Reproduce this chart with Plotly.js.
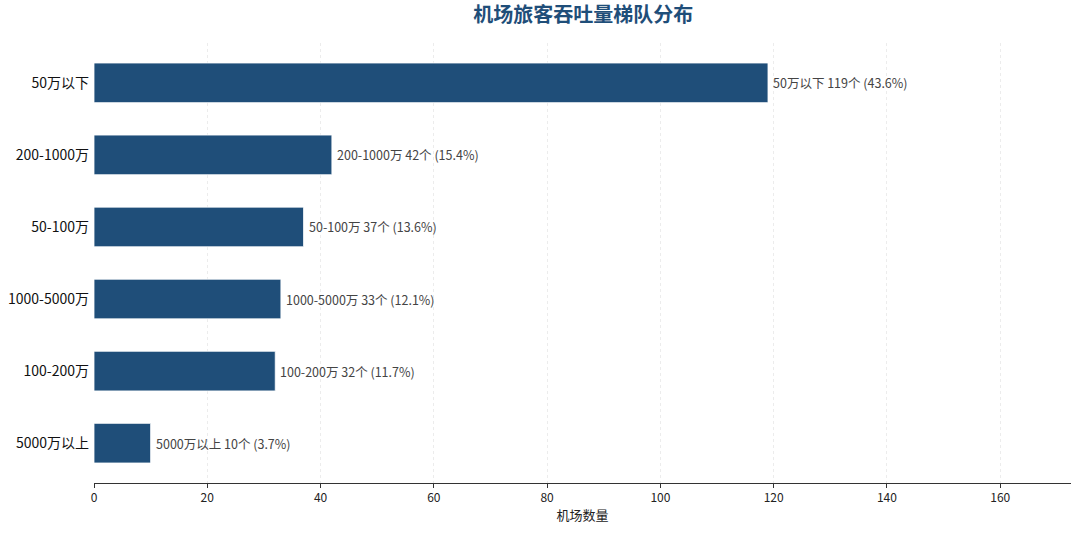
<!DOCTYPE html>
<html><head><meta charset="utf-8">
<script src="https://cdn.plot.ly/plotly-3.0.1.min.js"></script>
<style>html,body{margin:0;padding:0;background:#fff}</style>
</head><body>
<div id="chart" style="width:1080px;height:534px"></div>
<script>
const categories = ["5000万以上", "100-200万", "1000-5000万", "50-100万", "200-1000万", "50万以下"];
const counts = [10, 32, 33, 37, 42, 119];
const percents = ["3.7%", "11.7%", "12.1%", "13.6%", "15.4%", "43.6%"];
const labels = categories.map((c, i) => `${c} ${counts[i]}个 (${percents[i]})`);
const FONT = '"Noto Sans CJK SC", "Noto Sans", sans-serif';

const annotations = categories.map((c, i) => ({
  x: counts[i], y: c, xref: 'x', yref: 'y', text: labels[i], showarrow: false,
  xanchor: 'left', yanchor: 'middle', xshift: 3,
  font: {family: FONT, size: 12.5, color: '#444'}
}));

Plotly.newPlot('chart', [{
  type: 'bar', orientation: 'h',
  x: counts, y: categories,
  width: 0.55,
  marker: {color: '#1f4e79', line: {color: '#ffffff', width: 0.8}},
  hoverinfo: 'none'
}], {
  width: 1080, height: 534,
  margin: {l: 94, r: 9, t: 43, b: 51},
  paper_bgcolor: '#fff', plot_bgcolor: '#fff',
  title: {text: '机场旅客吞吐量梯队分布', x: 0.54, xanchor: 'center', y: 0.985, yanchor: 'top',
          font: {family: FONT, size: 20, color: '#1f4e79', weight: 'bold'}},
  annotations: annotations,
  xaxis: {range: [0, 172.5], dtick: 20, tick0: 0, showgrid: true, gridcolor: '#ececec', griddash: '3px,3px', gridwidth: 1,
          zeroline: false, showline: true, linecolor: '#333', linewidth: 1, ticks: 'outside', ticklen: 4, tickcolor: '#333',
          tickfont: {family: FONT, size: 12, color: '#222'},
          title: {text: '机场数量', font: {family: FONT, size: 13, color: '#222'}, standoff: 6}},
  yaxis: {type: 'category', categoryorder: 'array', categoryarray: categories, range: [-0.5525, 5.5525],
          showgrid: false, zeroline: false, showline: false, ticks: '', ticklen: 0, ticklabelstandoff: 4,
          tickfont: {family: FONT, size: 14, color: '#111'}},
  showlegend: false
}, {displayModeBar: false, staticPlot: true});
</script>
</body></html>
